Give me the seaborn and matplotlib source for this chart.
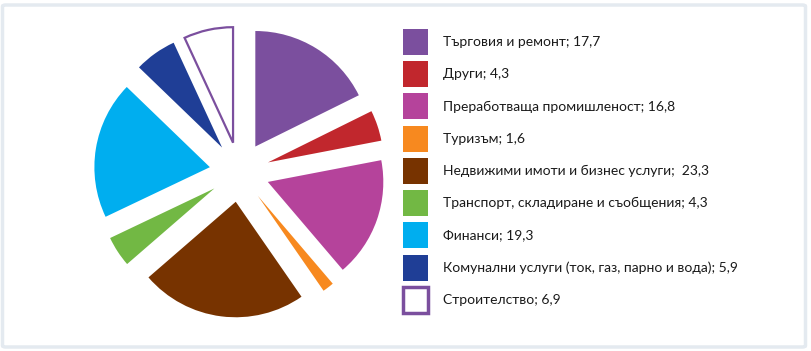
import matplotlib
matplotlib.use("Agg")
import matplotlib.pyplot as plt
import matplotlib.patches as mpatches
import seaborn as sns

# === DANE ===
sectors = [
    "Търговия и ремонт",
    "Други",
    "Преработваща промишленост",
    "Туризъм",
    "Недвижими имоти и бизнес услуги",
    "Транспорт, складиране и съобщения",
    "Финанси",
    "Комунални услуги (ток, газ, парно и вода)",
    "Строителство",
]
shares = [17.7, 4.3, 16.8, 1.6, 23.3, 4.3, 19.3, 5.9, 6.9]
share_labels = ["17,7", "4,3", "16,8", "1,6", " 23,3", "4,3", "19,3", "5,9", "6,9"]
colors = ["#7B4F9E", "#C1272D", "#B5439B", "#F7891F", "#773300",
          "#72B844", "#00AEEF", "#1F3E96", "#FFFFFF"]
edge_colors = ["none"] * 8 + ["#7B4F9E"]

sns.set_theme(style="white")
plt.rcParams["font.family"] = ["Lato", "DejaVu Sans"]

W, H = 812, 351
fig = plt.figure(figsize=(W / 100, H / 100), dpi=100)
fig.patch.set_facecolor("white")

# ramka
frame = mpatches.FancyBboxPatch((2.5 / W, 4 / H), 803 / W, 342 / H,
                                boxstyle="round,pad=0,rounding_size=0.004",
                                transform=fig.transFigure, fill=False,
                                edgecolor="#E4EAF0", linewidth=2.5)
fig.patches.append(frame)

ax = fig.add_axes([0, 0, 1, 1])
# explode w jednostkach danych (px)
wedges, _ = ax.pie(shares, colors=colors, startangle=90, counterclock=False,
                   radius=115.5, center=(239.5, H - 172),
                   explode=[30] * len(shares),
                   wedgeprops=dict(linewidth=0))
for w, ec in zip(wedges, edge_colors):
    if ec != "none":
        w.set_edgecolor(ec)
        w.set_linewidth(1.6)
        w.set_joinstyle("miter")
ax.set_xlim(0, W)
ax.set_ylim(0, H)
ax.set_aspect("equal")
ax.axis("off")

# === LEGENDA ===
handles = []
for c, ec in zip(colors, edge_colors):
    if ec == "none":
        handles.append(mpatches.Patch(facecolor=c, edgecolor="none"))
    else:
        handles.append(mpatches.Patch(facecolor=c, edgecolor=ec, linewidth=2.5))
labels = [f"{s}; {v}" for s, v in zip(sectors, share_labels)]
leg = fig.legend(handles, labels, loc="upper left",
                 bbox_to_anchor=(403 / W, 1 - 29 / H),
                 frameon=False, fontsize=10, borderpad=0, borderaxespad=0,
                 handlelength=1.8, handleheight=2.5, handletextpad=1.05,
                 labelspacing=0.45)
for t in leg.get_texts():
    t.set_color("#1a1a1a")

fig.savefig("out.png", dpi=100, facecolor="white")
